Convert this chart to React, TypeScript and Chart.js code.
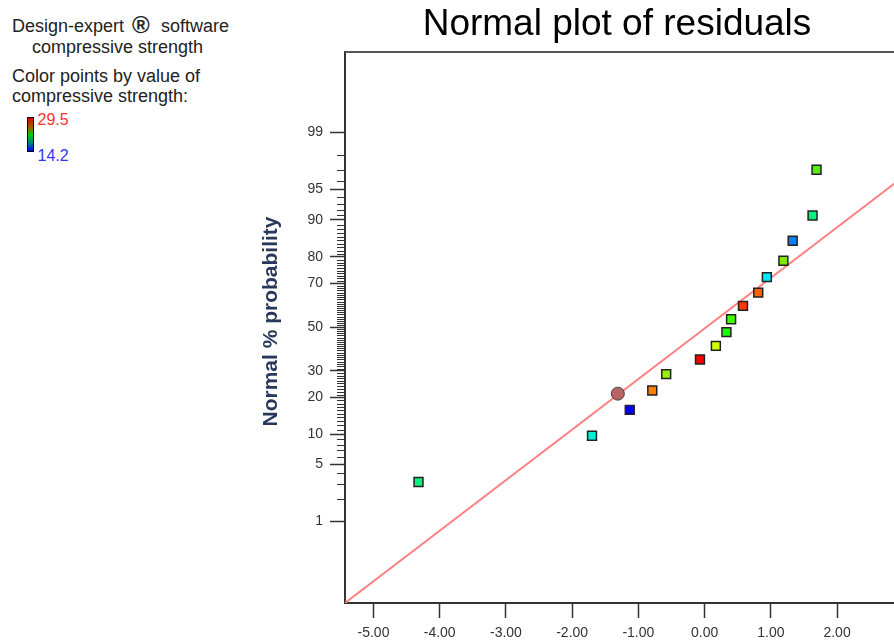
import React, { useEffect, useRef } from 'react';
import { Chart, registerables } from 'chart.js';

Chart.register(...registerables);

const FONT = '"Liberation Sans", Arial, Helvetica, sans-serif';

// Residuals (x) and their normal % probability (y)
const residuals = [-4.32, -1.70, -1.13, -0.79, -0.58, -0.07, 0.17, 0.33, 0.40, 0.58, 0.81, 0.94, 1.19, 1.33, 1.63, 1.69];
const normalPct = [3.2, 9.7, 16.1, 22.4, 28.7, 34.9, 41.1, 47.6, 53.7, 60.0, 66.0, 72.5, 78.6, 84.9, 90.9, 97.0];
const pointColors = ['#10f080', '#00f0d8', '#0000ff', '#ff8000', '#98f000', '#ff0000', '#d0ff00', '#18ff00', '#40ff00', '#ff3800', '#ff6000', '#00e8ff', '#80e800', '#0080ff', '#00f080', '#50f010'];

// Highlighted (round) point
const selResidual = [-1.31];
const selPct = [21.3];
const selColor = '#b86464';

// Axis ticks
const yMajorTicks = [1, 5, 10, 20, 30, 50, 70, 80, 90, 95, 99];
const yMinorFrom = 2;
const yMinorTo = 98;
const xTicks = [-5, -4, -3, -2, -1, 0, 1, 2];
const xRange = [-5.43, 4.37];
const zRange = [-3.30, 3.29];

// Reference line (mean, std. dev. of residual distribution)
const fitMean = 0.028;
const fitSd = 1.654;

const TITLE = 'Normal plot of residuals';
const Y_TITLE = 'Normal % probability';
const CANVAS_LEFT = 230;

function probit(p: number): number {
  const a = [-3.969683028665376e+01, 2.209460984245205e+02, -2.759285104469687e+02, 1.383577518672690e+02, -3.066479806614716e+01, 2.506628277459239e+00];
  const b = [-5.447609879822406e+01, 1.615858368580409e+02, -1.556989798598866e+02, 6.680131188771972e+01, -1.328068155288572e+01];
  const c = [-7.784894002430293e-03, -3.223964580411365e-01, -2.400758277161838e+00, -2.549732539343734e+00, 4.374664141464968e+00, 2.938163982698783e+00];
  const d = [7.784695709041462e-03, 3.224671290700398e-01, 2.445134137142996e+00, 3.754408661907416e+00];
  const pl = 0.02425;
  const ph = 1 - pl;
  if (p < pl) {
    const q = Math.sqrt(-2 * Math.log(p));
    return (((((c[0] * q + c[1]) * q + c[2]) * q + c[3]) * q + c[4]) * q + c[5]) / ((((d[0] * q + d[1]) * q + d[2]) * q + d[3]) * q + 1);
  }
  if (p > ph) {
    const q = Math.sqrt(-2 * Math.log(1 - p));
    return -(((((c[0] * q + c[1]) * q + c[2]) * q + c[3]) * q + c[4]) * q + c[5]) / ((((d[0] * q + d[1]) * q + d[2]) * q + d[3]) * q + 1);
  }
  const q = p - 0.5;
  const r = q * q;
  return (((((a[0] * r + a[1]) * r + a[2]) * r + a[3]) * r + a[4]) * r + a[5]) * q / (((((b[0] * r + b[1]) * r + b[2]) * r + b[3]) * r + b[4]) * r + 1);
}

const framePlugin = {
  id: 'frame',
  afterDraw(chart: any) {
    const { ctx, chartArea: a, scales } = chart;
    const y = scales.y;
    ctx.save();
    // minor ticks on probability axis
    ctx.strokeStyle = '#333';
    ctx.lineWidth = 1;
    ctx.beginPath();
    for (let p = yMinorFrom; p <= yMinorTo; p++) {
      if (yMajorTicks.includes(p)) continue;
      const py = Math.round(y.getPixelForValue(probit(p / 100))) + 0.5;
      ctx.moveTo(a.left - 8, py);
      ctx.lineTo(a.left, py);
    }
    ctx.stroke();
    // top / right frame
    ctx.strokeStyle = '#555';
    ctx.lineWidth = 2;
    ctx.beginPath();
    ctx.moveTo(a.left, a.top);
    ctx.lineTo(a.right, a.top);
    ctx.lineTo(a.right, a.bottom);
    ctx.stroke();
    // chart title
    ctx.fillStyle = '#000';
    ctx.font = `37px ${FONT}`;
    ctx.textAlign = 'center';
    ctx.textBaseline = 'alphabetic';
    ctx.fillText(TITLE, 617 - CANVAS_LEFT, 35);
    // y axis title
    ctx.translate(a.left - 68.3, (a.top + a.bottom) / 2 - 6);
    ctx.rotate(-Math.PI / 2);
    ctx.fillStyle = '#27395a';
    ctx.font = `bold 21px ${FONT}`;
    ctx.fillText(Y_TITLE, 0, 0);
    ctx.restore();
  },
};

function NormalPlot() {
  const ref = useRef<HTMLCanvasElement | null>(null);
  useEffect(() => {
    if (!ref.current) return;
    const pts = residuals.map((r, i) => ({ x: r, y: probit(normalPct[i] / 100) }));
    const sel = selResidual.map((r, i) => ({ x: r, y: probit(selPct[i] / 100) }));
    const line = xRange.map((x) => ({ x, y: (x - fitMean) / fitSd }));
    const chart = new Chart(ref.current, {
      type: 'scatter',
      data: {
        datasets: [
          {
            data: line,
            showLine: true,
            borderColor: '#ff8080',
            borderWidth: 2,
            pointRadius: 0,
            order: 3,
          },
          {
            data: pts,
            pointStyle: 'rect',
            pointRadius: 6.3,
            pointBackgroundColor: pointColors,
            pointBorderColor: '#222',
            pointBorderWidth: 1.5,
            order: 2,
          },
          {
            data: sel,
            pointStyle: 'circle',
            pointRadius: 6.5,
            pointBackgroundColor: selColor,
            pointBorderColor: '#444',
            pointBorderWidth: 1,
            order: 1,
          },
        ],
      } as any,
      options: {
        animation: false,
        responsive: true,
        maintainAspectRatio: false,
        layout: { padding: { left: 0, right: 10, top: 52, bottom: 0 } },
        plugins: {
          legend: { display: false },
          tooltip: { enabled: false },
          title: { display: false },
        },
        scales: {
          x: {
            type: 'linear',
            position: 'bottom',
            min: xRange[0],
            max: xRange[1],
            afterBuildTicks: (s: any) => {
              s.ticks = xTicks.map((v) => ({ value: v }));
            },
            afterFit: (s: any) => {
              s.height = 40;
            },
            ticks: {
              callback: (v: any) => Number(v).toFixed(2),
              color: '#333',
              font: { family: FONT, size: 14 },
              padding: 7,
              maxRotation: 0,
              autoSkip: false,
            },
            grid: { drawOnChartArea: false, drawTicks: true, tickLength: 15, tickColor: '#333', tickWidth: 1.5 },
            border: { display: true, color: '#333', width: 2 },
          },
          y: {
            type: 'linear',
            min: zRange[0],
            max: zRange[1],
            afterBuildTicks: (s: any) => {
              s.ticks = yMajorTicks.map((p) => ({ value: probit(p / 100) }));
            },
            afterFit: (s: any) => {
              s.width = 115;
            },
            ticks: {
              callback: (_v: any, i: number) => String(yMajorTicks[i]),
              color: '#333',
              font: { family: FONT, size: 14 },
              padding: 7,
              autoSkip: false,
            },
            grid: { drawOnChartArea: false, drawTicks: true, tickLength: 15, tickColor: '#333', tickWidth: 1.5 },
            border: { display: true, color: '#333', width: 2 },
          },
        },
      } as any,
      plugins: [framePlugin],
    });
    return () => chart.destroy();
  }, []);
  return <canvas ref={ref} />;
}

function ColorLegend() {
  return (
    <svg width={260} height={175} style={{ position: 'absolute', left: 0, top: 0 }} fontFamily={FONT}>
      <defs>
        <linearGradient id="cgrad" x1="0" y1="0" x2="0" y2="1">
          <stop offset="0" stopColor="#e00000" />
          <stop offset="0.3" stopColor="#a06000" />
          <stop offset="0.5" stopColor="#00d000" />
          <stop offset="0.75" stopColor="#008080" />
          <stop offset="1" stopColor="#0000ff" />
        </linearGradient>
      </defs>
      <text x={12} y={32} fontSize={18} fill="#222">Design-expert</text>
      <text x={132} y={33} fontSize={24} fontWeight="bold" fill="#222">®</text>
      <text x={161} y={32} fontSize={18} fill="#222">software</text>
      <text x={32} y={53} fontSize={18} fill="#222">compressive strength</text>
      <text x={12} y={81.5} fontSize={18} fill="#222">Color points by value of</text>
      <text x={12} y={101.5} fontSize={18} fill="#222">compressive strength:</text>
      <rect x={27.5} y={117.5} width={6} height={34} fill="url(#cgrad)" stroke="#000" strokeWidth={1} />
      <text x={37.5} y={124.5} fontSize={16} fill="#ff3030">29.5</text>
      <text x={37.5} y={161} fontSize={16} fill="#3333ff">14.2</text>
    </svg>
  );
}

export default function App() {
  return (
    <div style={{ position: 'fixed', left: 0, top: 0, width: 894, height: 643, overflow: 'hidden', background: '#fff' }}>
      <ColorLegend />
      <div style={{ position: 'absolute', left: CANVAS_LEFT, top: 0, width: 774, height: 643 }}>
        <NormalPlot />
      </div>
    </div>
  );
}
